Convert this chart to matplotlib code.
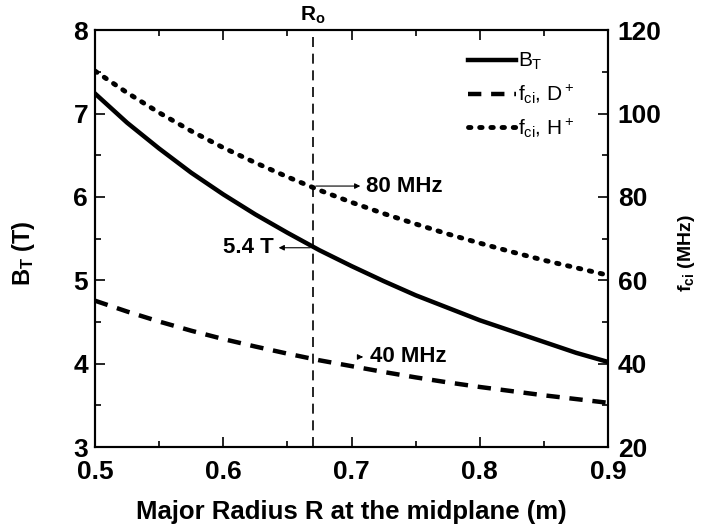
import matplotlib
matplotlib.use("Agg")
import matplotlib.pyplot as plt
from matplotlib.ticker import MultipleLocator

plt.rcParams['font.family'] = ['Liberation Sans', 'DejaVu Sans']
plt.rcParams['mathtext.fontset'] = 'custom'
plt.rcParams['mathtext.rm'] = 'Liberation Sans'
plt.rcParams['mathtext.it'] = 'Liberation Sans'
plt.rcParams['mathtext.bf'] = 'Liberation Sans:bold'

# major radius (m)
R = [0.5, 0.525, 0.55, 0.575, 0.6, 0.625, 0.65, 0.675, 0.7,
     0.725, 0.75, 0.775, 0.8, 0.825, 0.85, 0.875, 0.9]
# toroidal field (T)
B_T = [7.24, 6.89, 6.58, 6.29, 6.03, 5.79, 5.57, 5.36, 5.17,
       4.99, 4.82, 4.67, 4.52, 4.39, 4.26, 4.13, 4.02]
# ion cyclotron frequency (MHz)
f_D = [55.1, 52.5, 50.1, 47.9, 45.9, 44.1, 42.4, 40.8, 39.4,
       38.0, 36.7, 35.5, 34.4, 33.4, 32.4, 31.5, 30.6]
f_H = [110.2, 105.0, 100.2, 95.8, 91.8, 88.2, 84.8, 81.6, 78.7,
       76.0, 73.5, 71.1, 68.9, 66.8, 64.8, 63.0, 61.2]
R0 = 0.67

fig = plt.figure(figsize=(7.01, 5.29), dpi=100)
ax = fig.add_axes([0.1355, 0.155, 0.732, 0.788])
ax2 = ax.twinx()

l1, = ax.plot(R, B_T, color='black', lw=3.2, label='$B_T$')
l2, = ax2.plot(R, f_D, color='black', lw=3.2, ls=(0, (3, 2.2)), label='$f_{ci}$, D$^+$')
l3, = ax2.plot(R, f_H, color='black', lw=3.5, ls=(0, (0.5, 1.8)),
               dash_capstyle='round', label='$f_{ci}$, H$^+$')

ax.axvline(R0, color='black', lw=1.2, ls=(0, (6, 4)))
ax.text(R0, 8.05, '$\\mathbf{R_o}$', ha='center', va='bottom', fontsize=15)

ax.set_xlim(0.5, 0.9)
ax.set_ylim(3, 8)
ax2.set_ylim(20, 120)

ax.xaxis.set_major_locator(MultipleLocator(0.1))
ax.xaxis.set_minor_locator(MultipleLocator(0.05))
ax.yaxis.set_major_locator(MultipleLocator(1))
ax.yaxis.set_minor_locator(MultipleLocator(0.5))
ax2.yaxis.set_major_locator(MultipleLocator(20))
ax2.yaxis.set_minor_locator(MultipleLocator(10))

ax.tick_params(which='both', direction='in', top=True, width=1.2)
ax.tick_params(which='major', length=7, labelsize=19, pad=5)
ax.tick_params(axis='x', which='major', pad=9)
ax.tick_params(which='minor', length=4)
ax2.tick_params(which='both', direction='in', width=1.2)
ax2.tick_params(which='major', length=7, labelsize=19, pad=7)
ax2.tick_params(which='minor', length=4)
for a in (ax, ax2):
    for lab in a.get_xticklabels() + a.get_yticklabels():
        lab.set_fontweight('bold')
    for s in a.spines.values():
        s.set_linewidth(1.5)

ax.set_xlabel('Major Radius R at the midplane (m)', fontsize=18.5, fontweight='bold', labelpad=12)
ax.set_ylabel('$\\mathbf{B_T}$ (T)', fontsize=17, fontweight='bold')
ax.yaxis.set_label_coords(-0.113, 0.465)
ax2.set_ylabel('$\\mathbf{f_{ci}}$ (MHz)', fontsize=14, fontweight='bold')
ax2.yaxis.set_label_coords(1.133, 0.465)

# annotations
arrow = dict(arrowstyle='-|>', color='black', lw=0.8, mutation_scale=8)
ax.annotate('', xy=(0.709, 6.13), xytext=(R0, 6.13), arrowprops=arrow)
ax.text(0.711, 6.13, '80 MHz', fontsize=16, fontweight='bold', va='center', ha='left')
ax.annotate('', xy=(0.641, 5.39), xytext=(R0, 5.39), arrowprops=arrow)
ax.text(0.639, 5.39, '5.4 T', fontsize=16, fontweight='bold', va='center', ha='right')
ax.annotate('', xy=(0.709, 4.08), xytext=(0.705, 4.08), arrowprops=arrow)
ax.text(0.714, 4.08, '40 MHz', fontsize=16, fontweight='bold', va='center', ha='left')

ax.legend(handles=[l1, l2, l3], loc='upper right', frameon=False, fontsize=15,
          handlelength=2.3, handletextpad=0.1, labelspacing=0.5,
          bbox_to_anchor=(0.97, 0.995))

fig.savefig('out.png', dpi=100)
